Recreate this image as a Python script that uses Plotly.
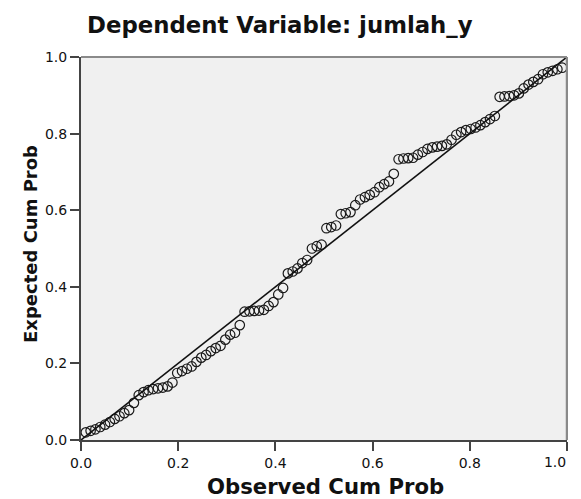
import plotly.graph_objects as go

# Observed cumulative probability (rank / (n+1)) and expected cumulative probability
n_points = 100
observed = [round(i / (n_points + 1), 4) for i in range(1, n_points + 1)]
expected = [
    0.020, 0.024, 0.028, 0.034, 0.040, 0.047, 0.055, 0.062, 0.070, 0.078,
    0.097, 0.117, 0.125, 0.130, 0.133, 0.135, 0.137, 0.140, 0.150, 0.175,
    0.180, 0.186, 0.192, 0.204, 0.215, 0.222, 0.232, 0.240, 0.246, 0.262,
    0.275, 0.280, 0.300, 0.335, 0.336, 0.337, 0.338, 0.340, 0.350, 0.360,
    0.380, 0.397, 0.435, 0.440, 0.448, 0.462, 0.470, 0.500, 0.506, 0.510,
    0.553, 0.556, 0.560, 0.590, 0.592, 0.595, 0.613, 0.628, 0.634, 0.640,
    0.647, 0.660, 0.668, 0.675, 0.695, 0.733, 0.735, 0.736, 0.737, 0.745,
    0.752, 0.760, 0.764, 0.766, 0.768, 0.772, 0.784, 0.797, 0.804, 0.809,
    0.812, 0.816, 0.822, 0.830, 0.838, 0.846, 0.896, 0.897, 0.898, 0.900,
    0.905, 0.918, 0.928, 0.935, 0.942, 0.955, 0.960, 0.964, 0.968, 0.972,
]
ref_line_x = [0.0, 1.0]
ref_line_y = [0.0, 1.0]
tick_vals = [0.0, 0.2, 0.4, 0.6, 0.8, 1.0]
tick_text = ["0.0", "0.2", "0.4", "0.6", "0.8", "1.0"]

title_text = "Dependent Variable: jumlah_y"
x_title = "Observed Cum Prob"
y_title = "Expected Cum Prob"

fig = go.Figure()
fig.add_trace(go.Scatter(
    x=ref_line_x, y=ref_line_y, mode="lines", xaxis="x2", yaxis="y",
    line=dict(color="#111111", width=1.6), hoverinfo="skip", showlegend=False,
))
fig.add_trace(go.Scatter(
    x=observed, y=expected, mode="markers",
    marker=dict(symbol="circle-open", size=9.5, color="#1a1a1a", line=dict(width=1.2)),
    showlegend=False,
))

tick_font = dict(family="DejaVu Sans", size=14, color="#111111")
axis_common = dict(
    range=[0, 1], tickmode="array", tickvals=tick_vals,
    ticks="outside", ticklen=9, tickwidth=2, tickcolor="#444444",
    showline=True, linecolor="#444444", linewidth=2, mirror=False,
    showgrid=False, zeroline=False, tickfont=tick_font,
)

W, H = 568, 499
L, R, T, B = 81, 1, 57, 59
PW = W - L - R

fig.update_layout(
    width=W, height=H,
    margin=dict(l=L, r=R, t=T, b=B),
    paper_bgcolor="white", plot_bgcolor="#f0f0f0",
    # main x axis: all labels except the last one (which sits at the window edge)
    xaxis=dict(**axis_common, ticktext=tick_text[:-1] + [""]),
    # overlay axis that carries only the last label, nudged left so it stays in view
    xaxis2=dict(range=[0, 1], overlaying="x", side="bottom", tickmode="array",
                tickvals=tick_vals[-1:], ticktext=tick_text[-1:], ticks="outside",
                ticklen=9, tickwidth=0, tickcolor="rgba(0,0,0,0)", showline=False,
                showgrid=False, zeroline=False, tickfont=tick_font,
                ticklabelshift=-12, ticklabeloverflow="allow"),
    yaxis=dict(**axis_common, ticktext=tick_text),
    annotations=[
        dict(text=title_text, xref="paper", yref="paper",
             x=(280 - L) / PW, y=1 + (T - 25) / (H - T - B), xanchor="center", yanchor="middle",
             showarrow=False, font=dict(family="DejaVu Sans", size=22.8, color="#111111", weight="bold")),
        dict(text=x_title, xref="paper", yref="paper",
             x=(325 - L) / PW, y=-(486 - (H - B)) / (H - T - B), xanchor="center", yanchor="middle",
             showarrow=False, font=dict(family="DejaVu Sans", size=21.2, color="#111111", weight="bold")),
        dict(text=y_title, xref="paper", yref="paper",
             x=-(L - 30) / PW, y=(244 - T) / (H - T - B) * -1 + 1, xanchor="center", yanchor="middle",
             textangle=-90,
             showarrow=False, font=dict(family="DejaVu Sans", size=18, color="#111111", weight="bold")),
    ],
    shapes=[
        dict(type="line", xref="paper", yref="paper", x0=0, x1=1, y0=1, y1=1,
             line=dict(color="#8a8a8a", width=2)),
        dict(type="line", xref="paper", yref="paper", x0=1, x1=1, y0=0, y1=1,
             line=dict(color="#8a8a8a", width=2.5)),
    ],
)

fig.write_html(
    "out.html",
    config={"displayModeBar": False},
    post_script=(
        "document.body.style.margin='0';document.body.style.padding='0';"
        "document.body.style.overflow='hidden';"
        "document.documentElement.style.overflow='hidden';"
    ),
)
